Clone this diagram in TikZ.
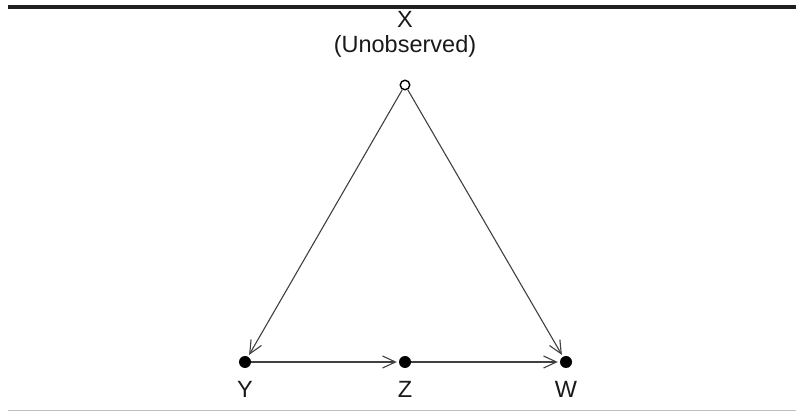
\documentclass[tikz,border=0pt]{standalone}
\usepackage{fontspec}
\setmainfont{Liberation Sans}
\usetikzlibrary{arrows.meta}
\begin{document}
\begin{tikzpicture}[x=1pt,y=-1pt,
  lbl/.style={font=\fontsize{23.5}{28}\selectfont, text=black!90, inner sep=0pt},
  fdot/.style={circle, fill=black, inner sep=0pt, minimum size=12pt},
  odot/.style={circle, draw=black, line width=1.4pt, fill=white, inner sep=0pt, minimum size=9.5pt},
  edge/.style={draw=black!75, line width=1.1pt, -{Straight Barb[length=13pt,width=12pt,line width=1.1pt]}, shorten >=2pt}]
\useasboundingbox (0,0) rectangle (796,411);
\fill[black!88] (8,5.5) rectangle (796,9);
\draw[black!25, line width=1pt] (8,410.5) -- (796,410.5);
\node[odot] (x) at (405,85) {};
\node[fdot] (y) at (245,362) {};
\node[fdot] (z) at (405,362) {};
\node[fdot] (w) at (566,362) {};
\node[lbl] (xl) at (405,19) {X};
\node[lbl] (xu) at (405,46) {(Unobserved)};
\node[lbl] (yl) at (245,389) {Y};
\node[lbl] (zl) at (405,389) {Z};
\node[lbl] (wl) at (566,389) {W};
\draw[edge] (x) -- (y);
\draw[edge] (x) -- (w);
\draw[edge] (y) -- (z);
\draw[edge] (z) -- (w);
\end{tikzpicture}
\end{document}
